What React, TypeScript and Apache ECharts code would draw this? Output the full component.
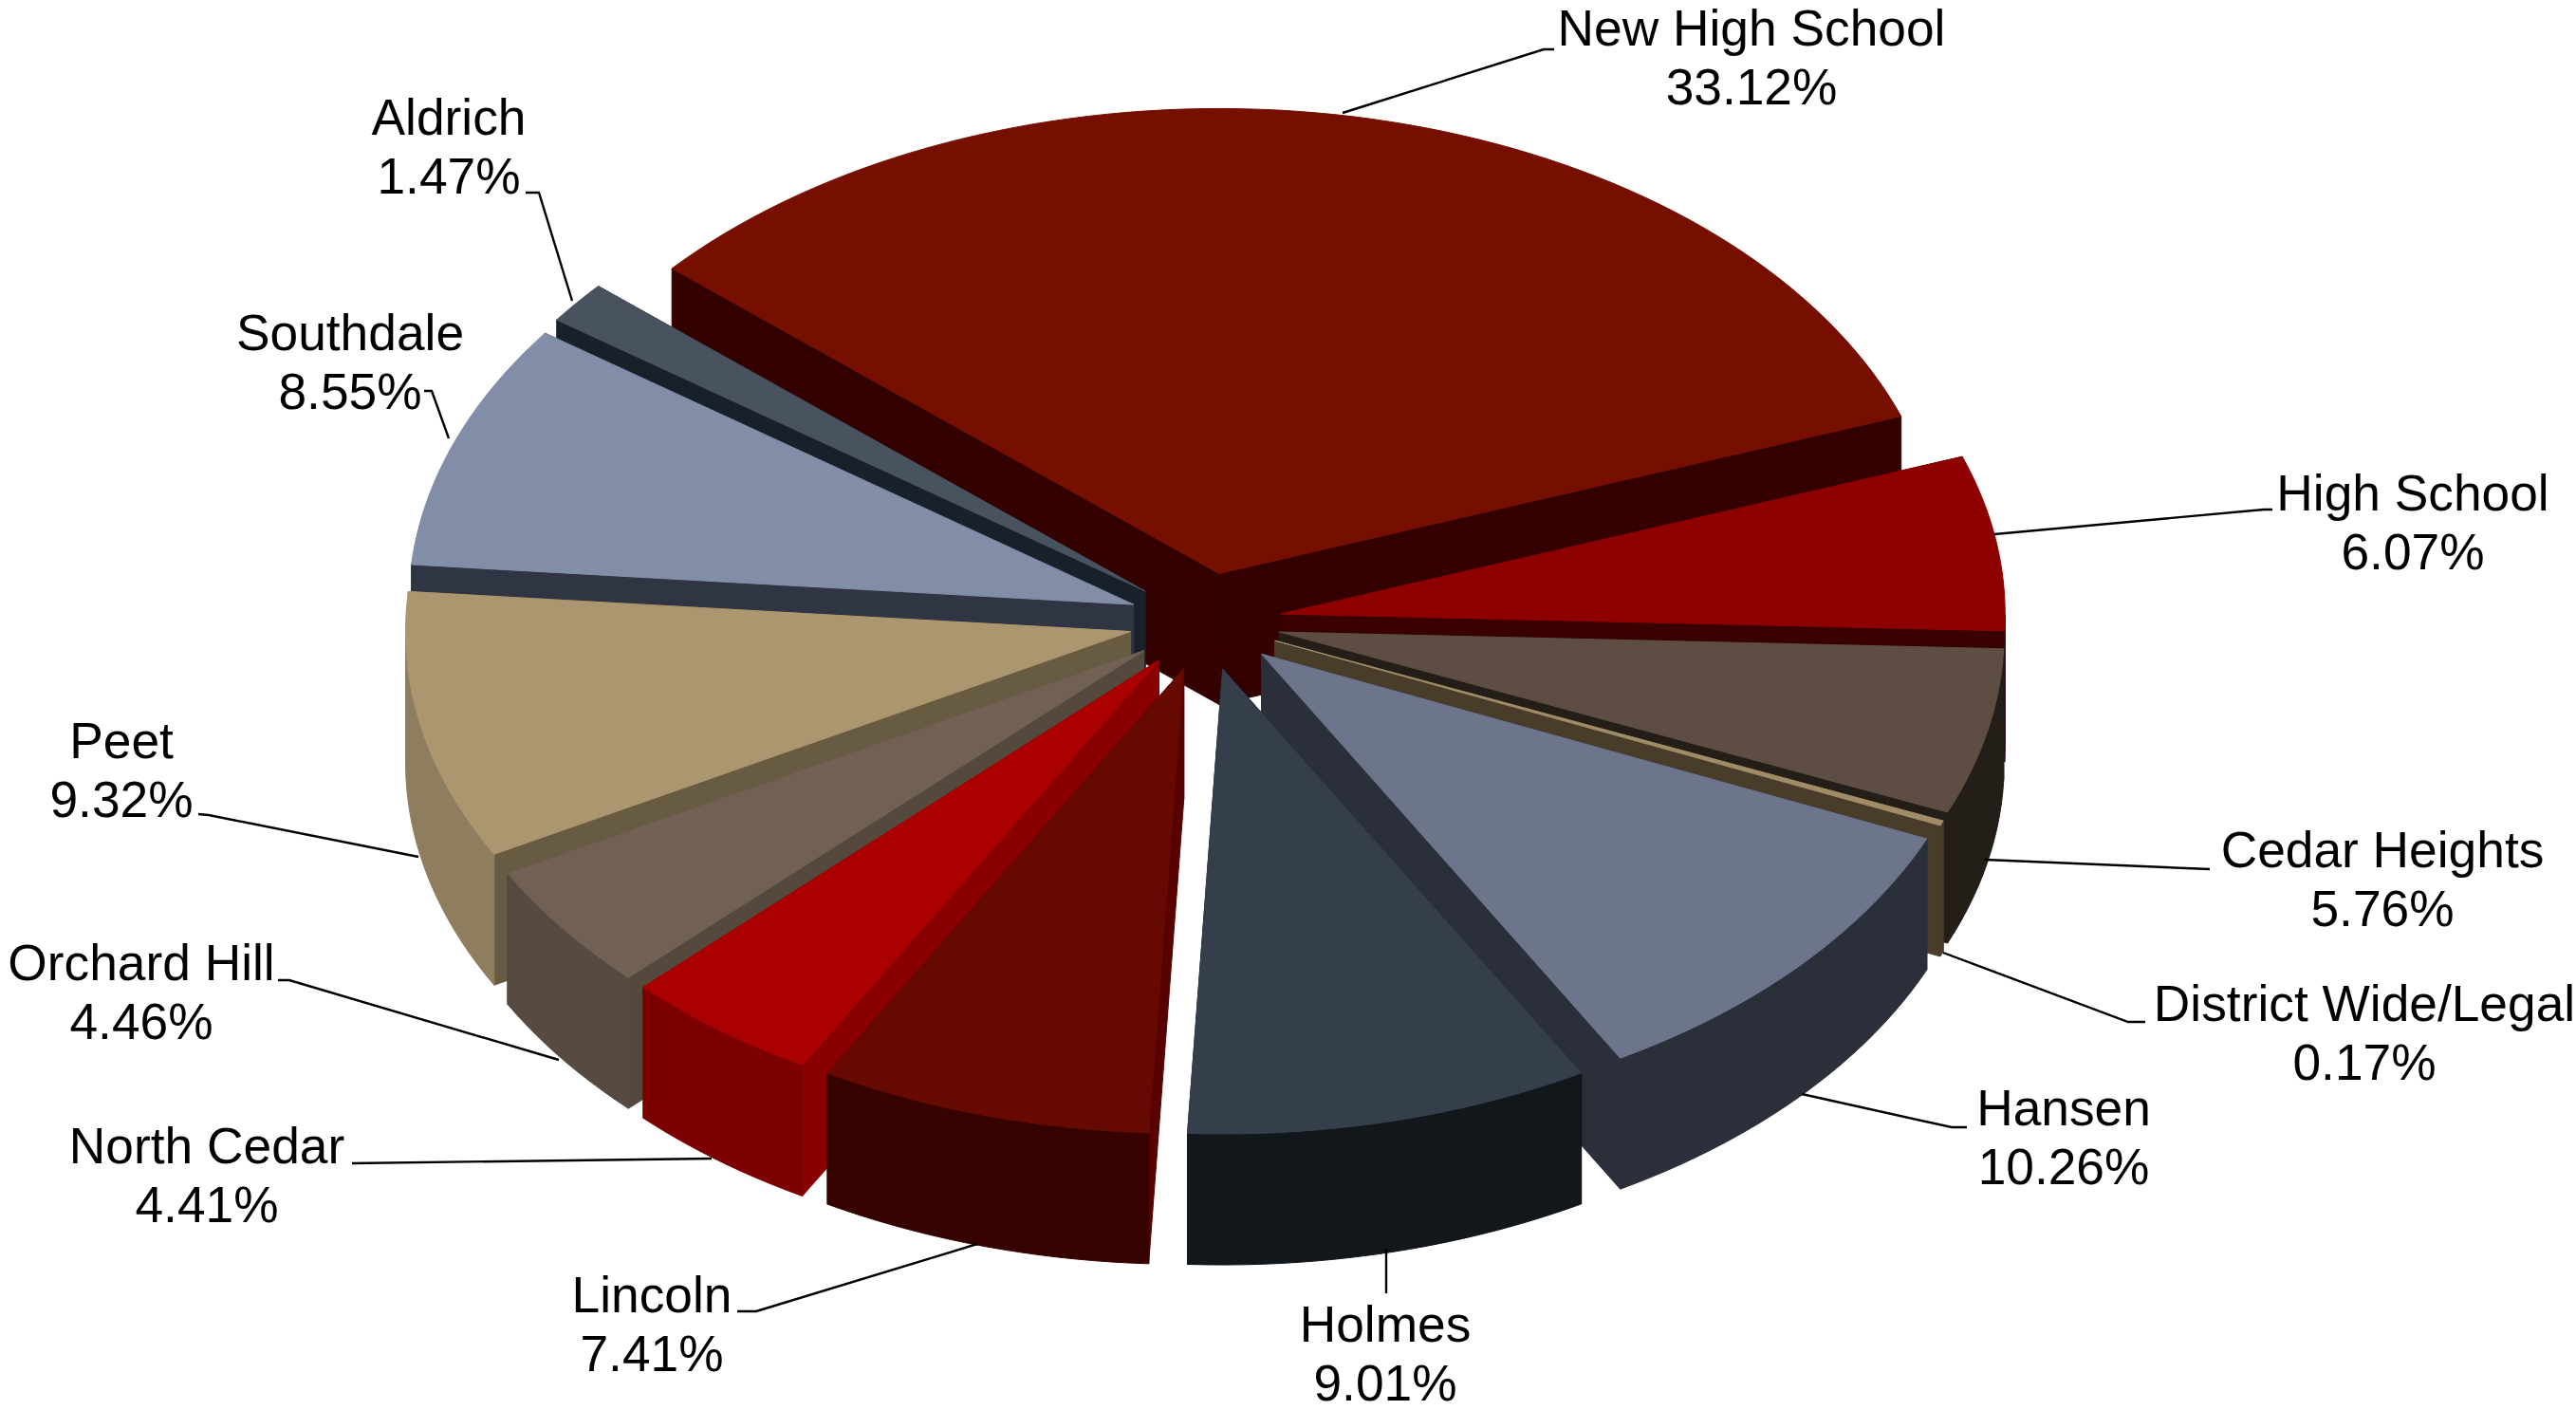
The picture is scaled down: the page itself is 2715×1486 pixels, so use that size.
import React, { useEffect, useRef } from "react";
import * as echarts from "echarts";

// Budget share by school, listed clockwise from the largest slice.
const schools = [
  "New High School", "High School", "Cedar Heights", "District Wide/Legal",
  "Hansen", "Holmes", "Lincoln", "North Cedar", "Orchard Hill", "Peet",
  "Southdale", "Aldrich",
];
const shares = [33.12, 6.07, 5.76, 0.17, 10.26, 9.01, 7.41, 4.41, 4.46, 9.32, 8.55, 1.47];

const topColors = ["#760f00", "#8e0000", "#5e4d43", "#a08c67", "#6c758c", "#353f4b", "#660900", "#aa0000", "#706154", "#ac966f", "#828da8", "#48535f"];
const wallColors = ["#330200", "#3a0000", "#241e18", "#4a3c2a", "#2a2f39", "#12171c", "#360200", "#7c0000", "#574a41", "#8e7d5e", "#2f3543", "#18202a"];
const faceColors = ["#330200", "#3a0000", "#241e18", "#4a3c2a", "#2a2f39", "#12171c", "#580200", "#8a0000", "#55493e", "#675b42", "#2f3543", "#18202a"];

// Pie geometry in page pixels.
const CX = 1270;
const CY = 655;
const RX = 764;
const RY = 490;
const DEPTH = 138;
const EXPLODE = 0.105;
const START_DEG = -49;

// Label centres and leader lines, in the same order as the schools.
const LINE_GAP = 31;
const labelCentres = [
  [1846, 60], [2543, 550], [2511, 926], [2492, 1088], [2175, 1198], [1460, 1426],
  [687, 1395], [218, 1238], [149, 1045], [128, 811], [369, 381], [473, 154],
];
const leaders = [
  [[1415, 119], [1627, 52], [1638, 52]],
  [[2102, 563], [2386, 537], [2395, 537]],
  [[2092, 906], [2329, 916]],
  [[2048, 1004], [2243, 1077], [2261, 1077]],
  [[1899, 1153], [2057, 1188], [2073, 1188]],
  [[1461, 1316], [1461, 1363]],
  [[1030, 1311], [797, 1382], [777, 1382]],
  [[750, 1221], [371, 1226]],
  [[589, 1117], [305, 1033], [293, 1033]],
  [[441, 903], [220, 859], [209, 858]],
  [[473, 462], [455, 412], [447, 412]],
  [[603, 317], [568, 203], [554, 203]],
];

const total = shares.reduce((a, b) => a + b, 0);
const rad = (deg: number) => (deg * Math.PI) / 180;

// Start and end angle of each slice, clockwise from twelve o'clock.
const spans = shares.reduce<number[][]>((acc, v) => {
  const from = acc.length ? acc[acc.length - 1][1] : START_DEG;
  acc.push([from, from + (v / total) * 360]);
  return acc;
}, []);

// Slices nearest the viewer are painted last.
const paintOrder = schools
  .map((_, i) => i)
  .sort((a, b) => {
    const m = (i: number) => -Math.cos(rad((spans[i][0] + spans[i][1]) / 2));
    return m(a) - m(b);
  });

function sliceShapes(index: number, value: number) {
  const from = spans[index][0];
  const to = from + (value / total) * 360;
  const mid = rad((from + to) / 2);
  const ax = CX + EXPLODE * RX * Math.sin(mid);
  const ay = CY - EXPLODE * RY * Math.cos(mid);
  const rim = (deg: number, drop = 0) => [
    ax + RX * Math.sin(rad(deg)),
    ay - RY * Math.cos(rad(deg)) + drop,
  ];
  const arc = (a: number, b: number, drop = 0) => {
    const steps = Math.max(2, Math.ceil(Math.abs(b - a) / 1.5));
    return Array.from({ length: steps + 1 }, (_, k) => rim(a + ((b - a) * k) / steps, drop));
  };
  const poly = (points: number[][], fill: string) => ({
    type: "polygon",
    shape: { points },
    style: { fill, stroke: fill, lineWidth: 1 },
  });
  const cutFace = (deg: number) =>
    poly([[ax, ay], rim(deg), rim(deg, DEPTH), [ax, ay + DEPTH]], faceColors[index]);

  const children: any[] = [cutFace(from), cutFace(to)];
  // Only the part of the rim that faces the viewer gets a wall.
  [[90, 270], [450, 630]].forEach(([lo, hi]) => {
    const a = Math.max(from, lo);
    const b = Math.min(to, hi);
    if (b > a) {
      children.push(poly([...arc(a, b), ...arc(a, b, DEPTH).reverse()], wallColors[index]));
    }
  });
  children.push(poly([[ax, ay], ...arc(from, to)], topColors[index]));
  return { type: "group", children };
}

function labelLine(text: string, x: number, y: number) {
  return {
    type: "text",
    x,
    y,
    style: {
      text,
      fontFamily: "Liberation Sans",
      fontSize: 53.3,
      fill: "#000000",
      align: "center",
      verticalAlign: "middle",
    },
  };
}

function labelShapes(index: number, value: number) {
  const [x, y] = labelCentres[index];
  return {
    type: "group",
    children: [
      {
        type: "polyline",
        shape: { points: leaders[index] },
        style: { fill: "none", stroke: "#000000", lineWidth: 2.4 },
      },
      labelLine(schools[index], x, y - LINE_GAP),
      labelLine(`${value.toFixed(2)}%`, x, y + LINE_GAP),
    ],
  };
}

export default function App() {
  const ref = useRef<HTMLDivElement>(null);
  useEffect(() => {
    document.body.style.margin = "0";
    const chart = echarts.init(ref.current!, undefined, { renderer: "svg" });
    chart.setOption({
      animation: false,
      backgroundColor: "#ffffff",
      series: [
        {
          type: "custom",
          coordinateSystem: "none",
          silent: true,
          z: 1,
          data: paintOrder.map((i) => [i, shares[i]]),
          renderItem: (_p: any, api: any) => sliceShapes(api.value(0), api.value(1)),
        },
        {
          type: "custom",
          coordinateSystem: "none",
          silent: true,
          z: 2,
          data: schools.map((_, i) => [i, shares[i]]),
          renderItem: (_p: any, api: any) => labelShapes(api.value(0), api.value(1)),
        },
      ],
    });
    return () => chart.dispose();
  }, []);
  return <div ref={ref} style={{ position: "absolute", left: 0, top: 0, width: 2715, height: 1486 }} />;
}
